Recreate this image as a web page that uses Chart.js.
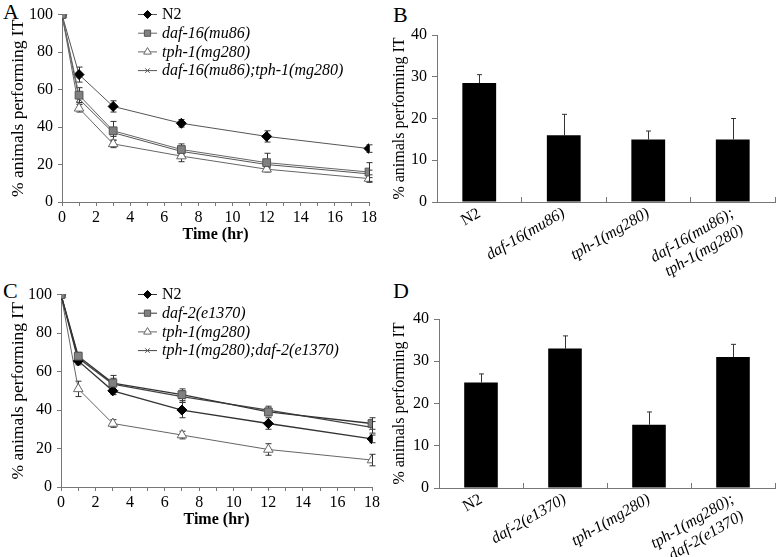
<!DOCTYPE html>
<html>
<head>
<meta charset="utf-8">
<script src="https://cdn.jsdelivr.net/npm/chart.js@4.4.0/dist/chart.umd.min.js"></script>
<style>
  body { margin: 0; background: #fff; width: 778px; height: 557px; position: relative; overflow: hidden; font-family: "Liberation Serif", serif; }
  canvas { position: absolute; }
  .letter { position: absolute; font-size: 22px; line-height: 1; color: #000; }
</style>
</head>
<body>
<div class="letter" style="left:3px;top:1px">A</div>
<div class="letter" style="left:393px;top:4px">B</div>
<div class="letter" style="left:3px;top:280px">C</div>
<div class="letter" style="left:393px;top:280px">D</div>
<canvas id="chartA"></canvas>
<canvas id="chartB"></canvas>
<canvas id="chartC"></canvas>
<canvas id="chartD"></canvas>
<script>
// time points (hr)
const timesHr = [0, 1, 3, 7, 12, 18];

// Panel A
const aN2 = [100, 68, 51, 42, 35, 28.5];
const aN2Err = [0, 4, 3, 2, 3, 2];
const aDaf16 = [100, 57, 38, 28, 21, 16];
const aDaf16Err = [0, 4, 5, 3, 5, 5];
const aTph1 = [100, 50, 31, 24.5, 17.5, 12.5];
const aTph1Err = [0, 2, 2, 3, 1, 2];
const aDouble = [100, 55, 37, 27, 20, 15];
const aDoubleErr = [0, 2, 2, 2, 2, 2];

// Panel B
const bLabels = ['N2', 'daf-16(mu86)', 'tph-1(mg280)', ['daf-16(mu86);', 'tph-1(mg280)']];
const bValues = [28.5, 16, 15, 15];
const bErr = [2, 5, 2, 5];

// Panel C
const cN2 = [100, 65.5, 50, 40, 33, 25];
const cN2Err = [0, 2, 2, 4, 3, 2];
const cDaf2 = [100, 68, 54, 48, 39, 33];
const cDaf2Err = [0, 2, 4, 3, 2, 3];
const cTph1 = [100, 51, 33, 27, 19.5, 14];
const cTph1Err = [0, 4, 2, 2, 3, 3];
const cDouble = [100, 67, 53.5, 47, 40, 31];
const cDoubleErr = [0, 2, 3, 3, 2, 3];

// Panel D
const dLabels = ['N2', 'daf-2(e1370)', 'tph-1(mg280)', ['tph-1(mg280);', 'daf-2(e1370)']];
const dValues = [25, 33, 15, 31];
const dErr = [2, 3, 3, 3];

const SERIF = '"Liberation Serif", "Times New Roman", serif';
Chart.defaults.font.family = SERIF;
Chart.defaults.font.size = 16;
Chart.defaults.color = '#000';
Chart.defaults.animation = false;

const AXIS = '#777';

// vertical error bars, drawn behind the marks
const errorBars = {
  id: 'errorBars',
  beforeDatasetsDraw(chart, args, opts) {
    const ctx = chart.ctx;
    const yScale = chart.scales.y;
    ctx.save();
    ctx.lineWidth = 1;
    chart.data.datasets.forEach((ds, i) => {
      if (!ds.errors) return;
      const meta = chart.getDatasetMeta(i);
      meta.data.forEach((el, j) => {
        const err = ds.errors[j];
        if (!err) return;
        const raw = ds.data[j];
        const v = typeof raw === 'object' ? raw.y : raw;
        const x = Math.round(el.x) + 0.5;
        const top = yScale.getPixelForValue(v + err);
        const bottom = opts.upOnly ? el.y : yScale.getPixelForValue(v - err);
        ctx.strokeStyle = opts.color || '#333';
        ctx.beginPath();
        ctx.moveTo(x, top);
        ctx.lineTo(x, bottom);
        ctx.moveTo(x - opts.cap, top);
        ctx.lineTo(x + opts.cap, top);
        if (!opts.upOnly) {
          ctx.moveTo(x - opts.cap, bottom);
          ctx.lineTo(x + opts.cap, bottom);
        }
        ctx.stroke();
      });
    });
    ctx.restore();
  }
};

// legend with line + marker, N2 upright, mutants in italics
const seriesLegend = {
  id: 'seriesLegend',
  afterDraw(chart, args, opts) {
    const ctx = chart.ctx;
    chart.data.datasets.forEach((ds, i) => {
      const y = opts.y + i * opts.dy;
      ctx.save();
      ctx.strokeStyle = ds.borderColor;
      ctx.lineWidth = 1;
      ctx.beginPath();
      ctx.moveTo(opts.x, y + 0.5);
      ctx.lineTo(opts.x + 19, y + 0.5);
      ctx.stroke();
      ctx.fillStyle = ds.pointBackgroundColor;
      ctx.strokeStyle = ds.pointBorderColor;
      Chart.helpers.drawPoint(ctx, { pointStyle: ds.pointStyle, radius: ds.pointRadius * 0.8, borderWidth: 1, rotation: 0 }, opts.x + 9.5, y + 0.5);
      ctx.fillStyle = '#000';
      ctx.textBaseline = 'middle';
      ctx.font = (ds.label === 'N2' ? '' : 'italic ') + '16px ' + SERIF;
      ctx.fillText(ds.label, opts.x + 24, y + 1);
      ctx.restore();
    });
  }
};

// put a canvas at box [left, top, w, h] and pin its plot area to [l, t, r, b] (page px)
function place(id, box, area) {
  const cv = document.getElementById(id);
  cv.width = box[2];
  cv.height = box[3];
  cv.style.left = box[0] + 'px';
  cv.style.top = box[1] + 'px';
  cv.style.width = box[2] + 'px';
  cv.style.height = box[3] + 'px';
  return {
    padding: { left: 0, top: area[1] - box[1], right: box[0] + box[2] - area[2], bottom: 0 },
    yWidth: area[0] - box[0],
    xHeight: box[1] + box[3] - area[3]
  };
}

function series(label, values, errors, style) {
  return Object.assign({
    label,
    data: timesHr.map((t, k) => ({ x: t, y: values[k] })),
    errors,
    borderWidth: 1,
    pointBorderWidth: 1,
    tension: 0
  }, style);
}

const STYLE_N2 = { borderColor: '#555', pointStyle: 'rectRot', pointRadius: 5, pointBackgroundColor: '#000', pointBorderColor: '#000', order: 1 };
const STYLE_DAF = { borderColor: '#666', pointStyle: 'rect', pointRadius: 5.5, pointBackgroundColor: '#808080', pointBorderColor: '#555', order: 0 };
const STYLE_TPH = { borderColor: '#666', pointStyle: 'triangle', pointRadius: 5.5, pointBackgroundColor: '#fff', pointBorderColor: '#666', order: 2 };
const STYLE_DBL = { borderColor: '#555', pointStyle: 'crossRot', pointRadius: 4, pointBackgroundColor: '#555', pointBorderColor: '#555', order: 3 };

function lineChart(id, box, area, datasets) {
  const p = place(id, box, area);
  return new Chart(document.getElementById(id), {
    type: 'line',
    data: { datasets },
    plugins: [errorBars, seriesLegend],
    options: {
      responsive: false,
      devicePixelRatio: 1,
      layout: { padding: p.padding },
      plugins: {
        legend: { display: false },
        tooltip: { enabled: false },
        errorBars: { cap: 3, upOnly: false, color: '#333' },
        seriesLegend: { x: 138, y: 14, dy: 18.7 }
      },
      scales: {
        x: {
          type: 'linear', min: 0, max: 18,
          ticks: { stepSize: 1, autoSkip: false, maxRotation: 0, padding: 2, callback: v => (v % 2 === 0 ? v : '') },
          grid: { drawOnChartArea: false, tickLength: 4, color: AXIS },
          border: { color: AXIS },
          title: { display: true, text: 'Time (hr)', font: { weight: 'bold', size: 16 }, padding: { top: 0, bottom: 0 } },
          afterFit: s => { s.height = p.xHeight; }
        },
        y: {
          min: 0, max: 100,
          ticks: { stepSize: 10, padding: 5, callback: v => (v % 20 === 0 ? v : '') },
          grid: { drawOnChartArea: false, tickLength: 4, color: AXIS },
          border: { color: AXIS },
          title: { display: true, text: '% animals performing IT', font: { size: 17.5 }, padding: { top: 8, bottom: 0 } },
          afterFit: s => { s.width = p.yWidth; }
        }
      }
    }
  });
}

function barChart(id, box, area, labels, values, errors) {
  const p = place(id, box, area);
  return new Chart(document.getElementById(id), {
    type: 'bar',
    data: {
      labels,
      datasets: [{ data: values, errors, backgroundColor: '#000', borderWidth: 0, barPercentage: 0.4, categoryPercentage: 1 }]
    },
    plugins: [errorBars],
    options: {
      responsive: false,
      devicePixelRatio: 1,
      layout: { padding: p.padding },
      plugins: {
        legend: { display: false },
        tooltip: { enabled: false },
        errorBars: { cap: 2.5, upOnly: true, color: '#333' }
      },
      scales: {
        x: {
          ticks: {
            minRotation: 30, maxRotation: 30, autoSkip: false, padding: 7,
            font: ctx => ({ style: ctx.index === 0 ? 'normal' : 'italic', size: 16 })
          },
          // tick marks between the bars point up into the plot
          grid: { drawOnChartArea: false, tickLength: -5, color: AXIS },
          border: { color: AXIS },
          afterFit: s => { s.height = p.xHeight; }
        },
        y: {
          min: 0, max: 40,
          ticks: { stepSize: 10, padding: 5 },
          grid: { drawOnChartArea: false, tickLength: 5, color: AXIS },
          border: { color: AXIS },
          title: { display: true, text: '% animals performing IT', font: { size: 16 }, padding: { top: 0, bottom: 0 } },
          afterFit: s => { s.width = p.yWidth; }
        }
      }
    }
  });
}

function drawAll() {
  lineChart('chartA', [0, 0, 390, 244], [62, 11, 369, 202], [
    series('N2', aN2, aN2Err, STYLE_N2),
    series('daf-16(mu86)', aDaf16, aDaf16Err, STYLE_DAF),
    series('tph-1(mg280)', aTph1, aTph1Err, STYLE_TPH),
    series('daf-16(mu86);tph-1(mg280)', aDouble, aDoubleErr, STYLE_DBL)
  ]);

  barChart('chartB', [390, 0, 388, 280], [437, 35, 775, 202], bLabels, bValues, bErr);

  lineChart('chartC', [0, 280, 390, 249], [61, 293, 372, 487], [
    series('N2', cN2, cN2Err, Object.assign({}, STYLE_N2, { borderColor: '#333', borderWidth: 1.3 })),
    series('daf-2(e1370)', cDaf2, cDaf2Err, Object.assign({}, STYLE_DAF, { borderColor: '#333', borderWidth: 1.3 })),
    series('tph-1(mg280)', cTph1, cTph1Err, STYLE_TPH),
    series('tph-1(mg280);daf-2(e1370)', cDouble, cDoubleErr, Object.assign({}, STYLE_DBL, { borderColor: '#444', borderWidth: 1.3 }))
  ]);

  barChart('chartD', [390, 280, 388, 277], [439, 319, 775, 488], dLabels, dValues, dErr);
}

// make sure the serif faces are loaded before the canvases draw text
Promise.all([
  document.fonts.load('16px "Liberation Serif"'),
  document.fonts.load('italic 16px "Liberation Serif"'),
  document.fonts.load('bold 16px "Liberation Serif"')
]).then(drawAll, drawAll);
</script>
</body>
</html>
